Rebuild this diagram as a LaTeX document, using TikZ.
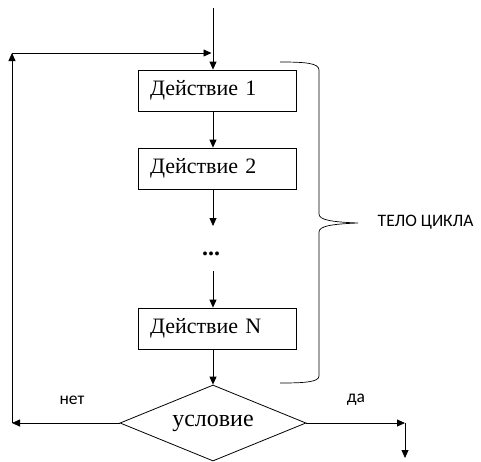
\documentclass[tikz,border=0pt]{standalone}
\usepackage{fontspec}
\setmainfont{Liberation Serif}
\newfontfamily\labelfont{Carlito}
\usetikzlibrary{arrows.meta,shapes.geometric}
\begin{document}
\begin{tikzpicture}[x=1pt,y=-1pt,
  line width=0.8pt,
  arr/.style={-{Triangle[length=8pt,width=7pt]}},
  action/.style={draw, minimum height=41pt, text width=134pt, inner xsep=12pt,
    align=left, font=\fontsize{22}{24}\selectfont},
  cond/.style={draw, diamond, aspect=2.45, minimum width=186pt, minimum height=76pt,
    inner sep=0pt, font=\fontsize{24}{26}\selectfont},
  note/.style={font=\labelfont\fontsize{17.5}{19}\selectfont}]
\useasboundingbox (0,0) rectangle (481,461);

% flowchart blocks
\node[action] (box1) at (217,90.5) {Действие 1};
\node[action] (box2) at (217,168.5) {Действие 2};
\node[font=\fontsize{24}{26}\selectfont\bfseries] (dots) at (211,254) {...};
\node[action] (boxN) at (217,328.5) {Действие N};
\node[cond] (cond) at (213,423) {\raisebox{3pt}{условие}};

% free ends of the connectors
\coordinate (start) at (213,8);
\coordinate (loopBL) at (12,423);
\coordinate (loopTL) at (12,53);
\coordinate (merge) at (213,53);
\coordinate (yes) at (405,423);
\coordinate (exit) at (405,458);

% main flow
\draw[arr] (start) -- (start |- box1.north);
\draw[arr] (start |- box1.south) -- (start |- box2.north);
\draw[arr] (start |- box2.south) -- (213,226);
\draw[arr] (213,271) -- (start |- boxN.north);
\draw[arr] (start |- boxN.south) -- (cond.north);

% loop back on "no"
\draw[arr] (cond.west) -- (loopBL);
\draw[arr] (loopBL) -- (loopTL);
\draw[arr, shorten >=1.5pt] (loopTL) -- (merge);

% exit on "yes"
\draw[arr] (cond.east) -- (yes);
\draw[arr] (yes) -- (exit);

% branch labels
\node[note] (no) at (72,400) {нет};
\node[note] (da) at (356,400) {да};

% brace around the loop body
\draw[line width=0.7pt] (280,62) .. controls (305,62) and (319,63) .. (319,70)
  -- (319,214) .. controls (319,220) and (332,222) .. (358,223)
  .. controls (332,224) and (319,226) .. (319,232)
  -- (319,376) .. controls (319,382) and (305,383) .. (280,383);
\node[note, anchor=west] (body) at (374,222) {ТЕЛО ЦИКЛА};
\end{tikzpicture}
\end{document}
